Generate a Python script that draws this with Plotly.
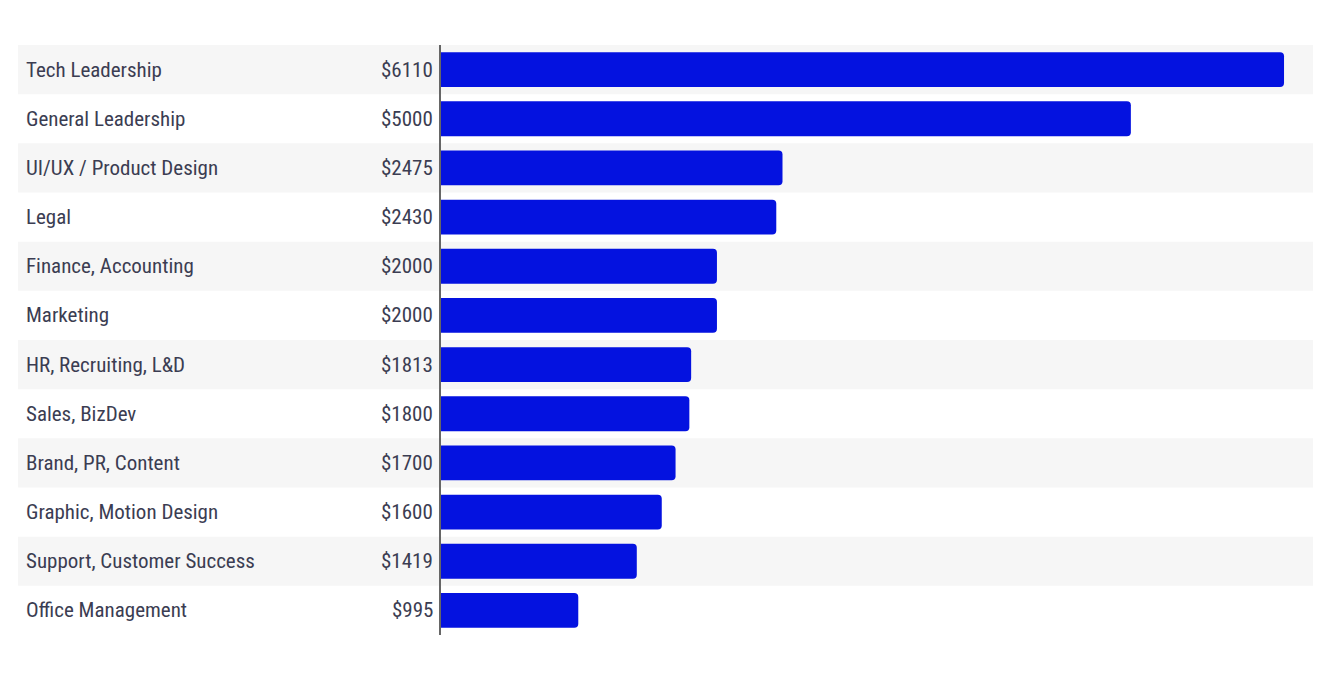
import plotly.graph_objects as go

# Median rate per category (USD)
categories = [
    "Tech Leadership", "General Leadership", "UI/UX / Product Design", "Legal",
    "Finance, Accounting", "Marketing", "HR, Recruiting, L&D", "Sales, BizDev",
    "Brand, PR, Content", "Graphic, Motion Design", "Support, Customer Success",
    "Office Management",
]
values = [6110, 5000, 2475, 2430, 2000, 2000, 1813, 1800, 1700, 1600, 1419, 995]
value_labels = [f"${v}" for v in values]

FONT = "Roboto Condensed, Liberation Sans Narrow, Roboto, sans-serif"
TEXT = "#3b3d52"
BAR = "#0412e0"

fig = go.Figure()

fig.add_trace(
    go.Bar(
        x=values,
        y=categories,
        orientation="h",
        marker=dict(color=BAR, cornerradius=4, line=dict(width=0)),
        hoverinfo="skip",
    )
)

# striped row backgrounds, reaching out past the axis to the left
for i, cat in enumerate(categories):
    if i % 2 == 0:
        fig.add_shape(
            type="rect", layer="below",
            xref="x domain", yref="y",
            x0=-0.485, x1=1, y0=i - 0.5, y1=i + 0.5,
            fillcolor="#f6f6f6", line=dict(width=0),
        )

for cat, lab in zip(categories, value_labels):
    fig.add_annotation(
        x=0, y=cat, xref="x domain", yref="y", text=cat,
        xanchor="left", xshift=-417, showarrow=False,
        font=dict(family=FONT, size=21, color=TEXT),
    )
    fig.add_annotation(
        x=0, y=cat, xref="x domain", yref="y", text=lab,
        xanchor="right", xshift=-6, showarrow=False,
        font=dict(family=FONT, size=21, color=TEXT),
    )

fig.update_xaxes(range=[0, 6320], visible=False, fixedrange=True)
fig.update_yaxes(
    autorange="reversed", showticklabels=False, ticks="",
    showline=True, linewidth=2, linecolor="#666666", showgrid=False,
    zeroline=False, fixedrange=True,
)

fig.update_layout(
    width=1338, height=682,
    margin=dict(l=433, r=33, t=37, b=55),
    bargap=0.29,
    plot_bgcolor="rgba(0,0,0,0)",
    paper_bgcolor="white",
    showlegend=False,
)

fig.write_html("out.html", config={"displayModeBar": False})
